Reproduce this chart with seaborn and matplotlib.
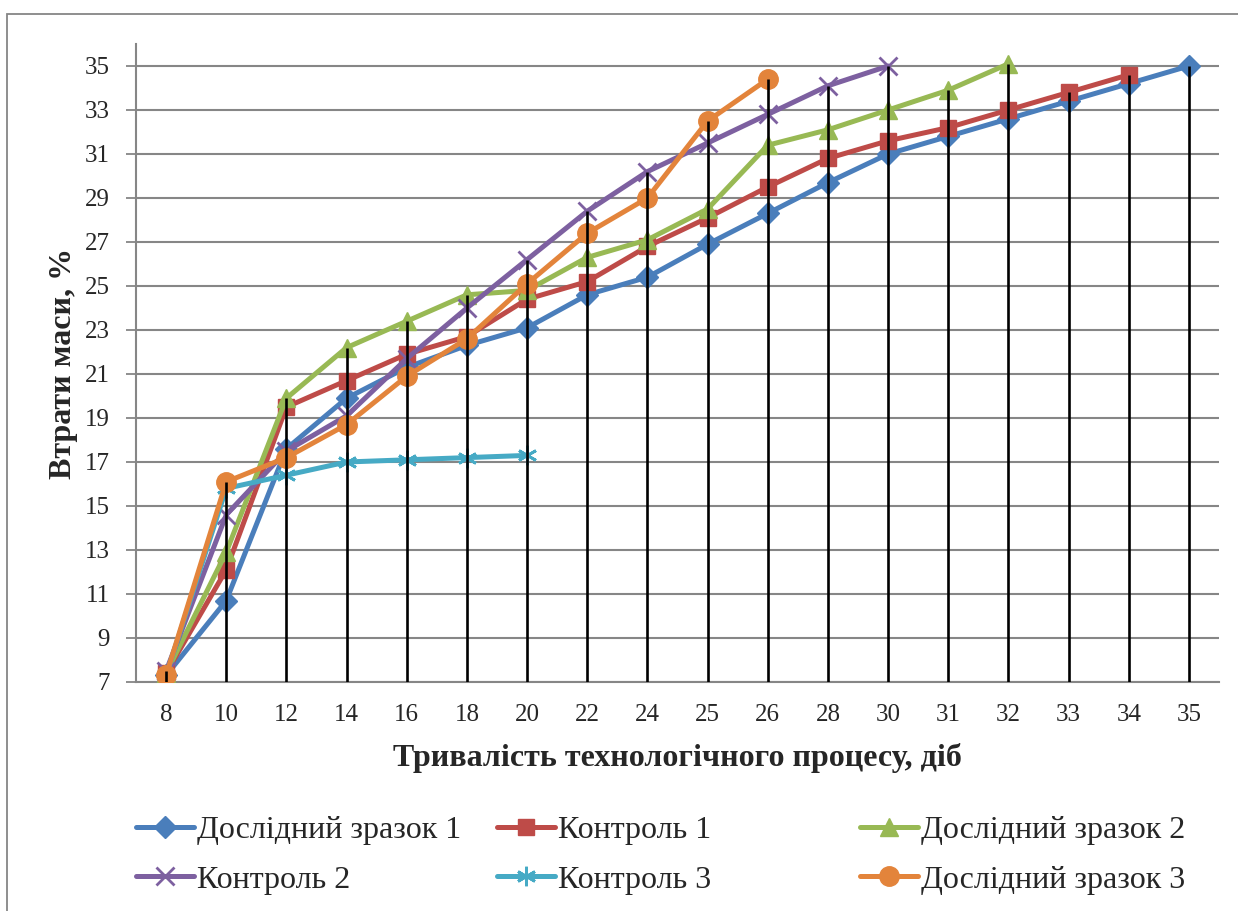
import numpy as np
import pandas as pd
import matplotlib
matplotlib.use("Agg")
import matplotlib.pyplot as plt
from matplotlib.patches import Rectangle
import seaborn as sns

nan = np.nan
days = ["8", "10", "12", "14", "16", "18", "20", "22", "24", "25",
        "26", "28", "30", "31", "32", "33", "34", "35"]
d1 = [7.3, 10.7, 17.6, 19.9, 21.3, 22.3, 23.1, 24.6, 25.4, 26.9, 28.3, 29.7, 31.0, 31.8, 32.6, 33.4, 34.2, 35.0]
k1 = [7.4, 12.1, 19.5, 20.7, 21.9, 22.7, 24.4, 25.2, 26.8, 28.1, 29.5, 30.8, 31.6, 32.2, 33.0, 33.8, 34.6, nan]
d2 = [7.4, 12.9, 19.9, 22.2, 23.4, 24.6, 24.8, 26.3, 27.1, 28.5, 31.4, 32.1, 33.0, 33.9, 35.1, nan, nan, nan]
k2 = [7.5, 14.6, 17.5, 19.1, 21.7, 24.0, 26.2, 28.4, 30.2, 31.5, 32.8, 34.1, 35.0, nan, nan, nan, nan, nan]
k3 = [7.3, 15.8, 16.4, 17.0, 17.1, 17.2, 17.3, nan, nan, nan, nan, nan, nan, nan, nan, nan, nan, nan]
d3 = [7.3, 16.1, 17.2, 18.7, 20.9, 22.6, 25.1, 27.4, 29.0, 32.5, 34.4, nan, nan, nan, nan, nan, nan, nan]

names = ["Дослідний зразок 1", "Контроль 1", "Дослідний зразок 2",
         "Контроль 2", "Контроль 3", "Дослідний зразок 3"]
series = [d1, k1, d2, k2, k3, d3]
colors = ["#4A7EBB", "#BE4B48", "#98B954", "#7D60A0", "#46AAC5", "#E3843B"]
markers = ["D", "s", "^", "x", (6, 2, 0), "o"]
msizes = [11, 12, 13, 13, 14, 14]

sns.set_theme(style="white")
plt.rcParams["font.family"] = ["Liberation Serif", "DejaVu Serif"]

W, H = 1238, 911
fig = plt.figure(figsize=(W / 100, H / 100), dpi=100)
fig.patch.set_facecolor("white")
ax = fig.add_axes([136 / W, 1 - 682 / H, (1219 - 136) / W, (682 - 44) / H])

pos = np.arange(len(days))
for name, vals, c, m, ms in zip(names, series, colors, markers, msizes):
    df = pd.DataFrame({"x": pos, "y": vals}).dropna()
    sns.lineplot(data=df, x="x", y="y", ax=ax, color=c, lw=3.6,
                 marker=m, markersize=ms, markeredgecolor=c,
                 markeredgewidth=2.0 if m in ("x", (6, 2, 0)) else 1.0,
                 label=name, legend=False, zorder=3)

# drop lines
arr = np.array(series, dtype=float)
tops = np.nanmax(arr, axis=0)
ax.vlines(pos, 7, tops, colors="black", lw=1.9, zorder=5)

ax.set_xlim(-0.5, len(days) - 0.5)
ax.set_ylim(7, 36)
ax.set_yticks(np.arange(7, 36, 2))
ax.set_xticks(pos)
ax.set_xticklabels(days)
ax.set_xticks(np.arange(-0.5, len(days), 1), minor=True)
ax.tick_params(axis="x", which="major", length=0, pad=16, labelsize=18)
ax.tick_params(axis="x", which="minor", length=7, width=1.3, color="#868686", direction="out")
ax.tick_params(axis="y", length=7, width=1.3, color="#868686", direction="out",
               pad=12, labelsize=18, left=True)
ax.yaxis.grid(True, color="#868686", lw=1.5)
ax.xaxis.grid(False)
for s in ["top", "right"]:
    ax.spines[s].set_visible(False)
for s in ["left", "bottom"]:
    ax.spines[s].set_color("#868686")
    ax.spines[s].set_linewidth(1.5)

ax.set_xlabel("Тривалість технологічного процесу, діб", fontsize=23,
              fontweight="bold", labelpad=12)
ax.set_ylabel("Втрати маси, %", fontsize=23, fontweight="bold", labelpad=5)

h, l = ax.get_legend_handles_labels()
col_x = [136, 497, 860]
for ci, (i, j) in enumerate([(0, 3), (1, 4), (2, 5)]):
    leg = fig.legend([h[i], h[j]], [l[i], l[j]], ncol=1,
                     loc="upper left", bbox_to_anchor=(col_x[ci] / W, 1 - 816 / H),
                     frameon=False, fontsize=23, handlelength=1.8, handletextpad=0.1,
                     labelspacing=0.62, borderaxespad=0, borderpad=0)

fig.patches.append(Rectangle((7 / W, -0.1), 1.2, 1 - 14 / H + 0.1,
                             transform=fig.transFigure, fill=False,
                             edgecolor="#868686", lw=1.3))

fig.savefig("out.png", dpi=100)
